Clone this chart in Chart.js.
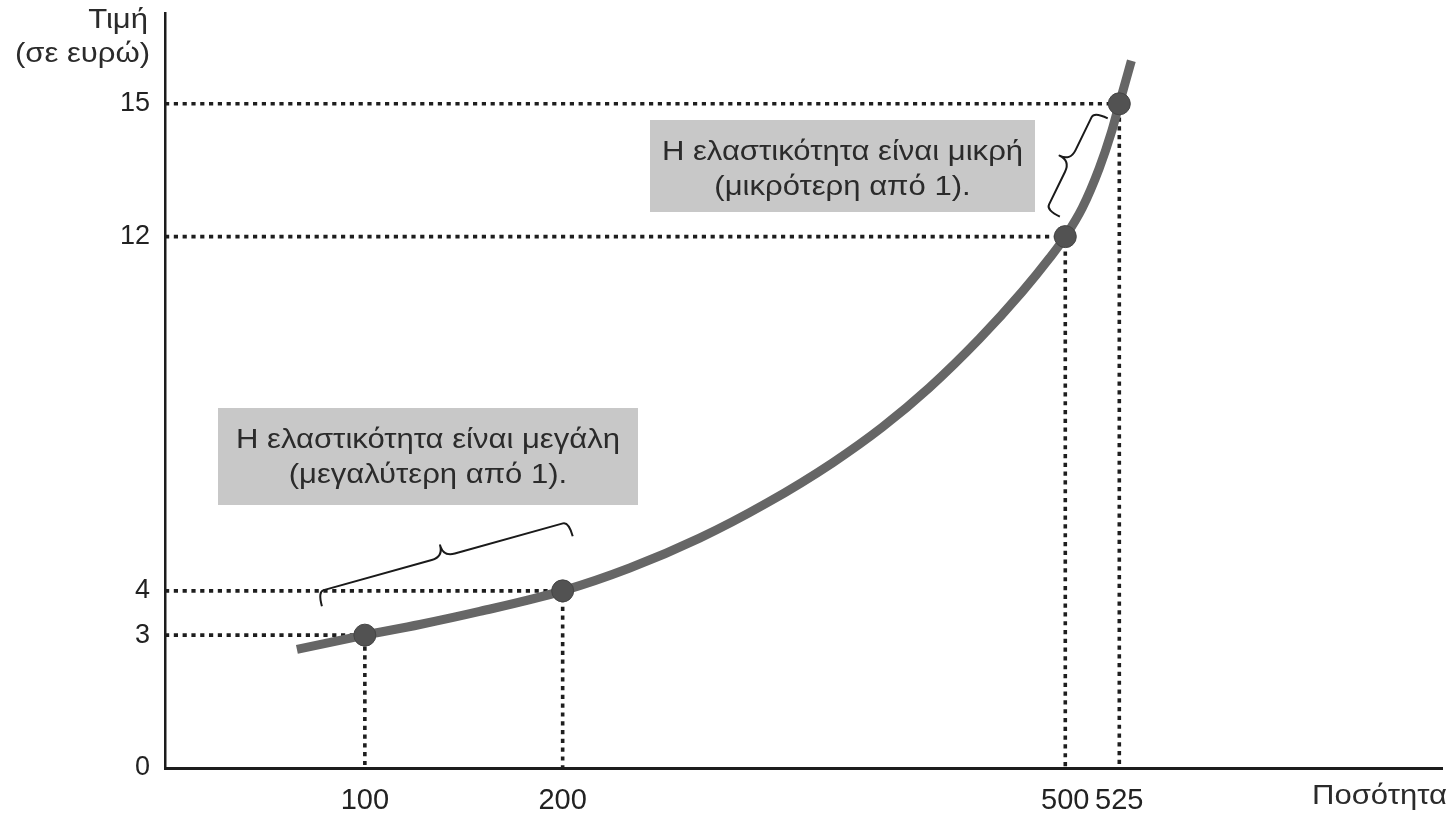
<!DOCTYPE html>
<html>
<head>
<meta charset="utf-8">
<script src="https://cdn.jsdelivr.net/npm/chart.js@4/dist/chart.umd.min.js"></script>
<style>
html,body{margin:0;padding:0;background:#ffffff;}
#wrap{width:1454px;height:815px;position:relative;}
</style>
</head>
<body>
<div id="wrap"><canvas id="c" width="1454" height="815"></canvas></div>
<script>
// ---- data ----
const curveQuantity = [66, 100, 127.8, 158.1, 200, 240, 281.7, 321.7, 361, 390.9, 418.9, 448.7, 474.4, 490.5, 500, 507.9, 515.7, 521.3, 525, 527.8];
const curvePrice    = [2.68, 3, 3.24, 3.535, 4, 4.515, 5.19, 5.98, 6.89, 7.7, 8.59, 9.69, 10.76, 11.51, 12, 12.65, 13.54, 14.35, 15, 15.97];
const markedQuantity = [100, 200, 500, 525];
const markedPrice    = [3, 4, 12, 15];
const xTickValues = [100, 200, 500, 525];
const yTickValues = [0, 3, 4, 12, 15];
const yAxisTitle = ['Τιμή', '(σε ευρώ)'];
const xAxisTitle = 'Ποσότητα';
const noteLarge = ['Η ελαστικότητα είναι μεγάλη', '(μεγαλύτερη από 1).'];
const noteSmall = ['Η ελαστικότητα είναι μικρή', '(μικρότερη από 1).'];
const braceLarge = [[76.5, 3.98], [203.6, 5.56]];
const braceSmall = [[488.7, 12.6], [513.4, 14.82]];
// the printed quantity axis is not drawn to scale: breakpoints of the axis
const xBreakValues = [0, 100, 200, 500, 525, 600];
const xBreakShare  = [0, 0.1565, 0.3114, 0.705, 0.7473, 1];

const FONT = '"Liberation Sans", Arial, Helvetica, sans-serif';
const STRETCH = 1.15;

function valueToShare(v) {
  const n = xBreakValues.length;
  let i = 0;
  if (v <= xBreakValues[0]) i = 0;
  else if (v >= xBreakValues[n - 1]) i = n - 2;
  else { while (i < n - 2 && v > xBreakValues[i + 1]) i++; }
  const t = (v - xBreakValues[i]) / (xBreakValues[i + 1] - xBreakValues[i]);
  return xBreakShare[i] + t * (xBreakShare[i + 1] - xBreakShare[i]);
}
function shareToValue(s) {
  const n = xBreakShare.length;
  let i = 0;
  if (s <= xBreakShare[0]) i = 0;
  else if (s >= xBreakShare[n - 1]) i = n - 2;
  else { while (i < n - 2 && s > xBreakShare[i + 1]) i++; }
  const t = (s - xBreakShare[i]) / (xBreakShare[i + 1] - xBreakShare[i]);
  return xBreakValues[i] + t * (xBreakValues[i + 1] - xBreakValues[i]);
}

class PiecewiseScale extends Chart.LinearScale {
  getPixelForValue(value) {
    if (value === null || value === undefined || isNaN(value)) return NaN;
    return this.getPixelForDecimal(valueToShare(+value));
  }
  getValueForPixel(pixel) {
    return shareToValue(this.getDecimalForPixel(pixel));
  }
}
PiecewiseScale.id = 'piecewise';
PiecewiseScale.defaults = Chart.LinearScale.defaults;
Chart.register(PiecewiseScale);

// ---- datasets ----
const curveData = curveQuantity.map((q, i) => ({x: q, y: curvePrice[i]}));
const markedData = markedQuantity.map((q, i) => ({x: q, y: markedPrice[i]}));
const guideSets = markedQuantity.map((q, i) => ({
  type: 'line',
  data: [{x: 0, y: markedPrice[i]}, {x: q, y: markedPrice[i]}, {x: q, y: 0}],
  borderColor: '#1e1e1e',
  borderWidth: 3.6,
  borderDash: [4.2, 4.6],
  pointRadius: 0,
  tension: 0,
  fill: false,
  order: 3
}));

function drawBrace(ctx, A, B, hook, cusp) {
  const dx = B.x - A.x, dy = B.y - A.y;
  const L = Math.hypot(dx, dy);
  const u = {x: dx / L, y: dy / L};
  const n = {x: -u.y, y: u.x};
  const M = {x: (A.x + B.x) / 2, y: (A.y + B.y) / 2};
  const r = 6, r2 = 12;
  const P = (p, a, b) => ({x: p.x + u.x * a + n.x * b, y: p.y + u.y * a + n.y * b});
  ctx.beginPath();
  let p = P(A, 0, hook); ctx.moveTo(p.x, p.y);
  let c = P(A, 0, 0); p = P(A, r, 0); ctx.quadraticCurveTo(c.x, c.y, p.x, p.y);
  p = P(M, -r2, 0); ctx.lineTo(p.x, p.y);
  c = P(M, 0, 0); p = P(M, 0, -cusp); ctx.quadraticCurveTo(c.x, c.y, p.x, p.y);
  p = P(M, r2, 0); ctx.quadraticCurveTo(c.x, c.y, p.x, p.y);
  p = P(B, -r, 0); ctx.lineTo(p.x, p.y);
  c = P(B, 0, 0); p = P(B, 0, hook); ctx.quadraticCurveTo(c.x, c.y, p.x, p.y);
  ctx.stroke();
}

function wideText(ctx, text, x, y, align) {
  ctx.save();
  ctx.translate(x, y);
  ctx.scale(STRETCH, 1);
  ctx.textAlign = align;
  ctx.fillText(text, 0, 0);
  ctx.restore();
}

const boxLayout = [
  {x: 218, y: 408, w: 420, h: 97, lines: noteLarge},
  {x: 650, y: 120, w: 385, h: 92, lines: noteSmall}
];

const annotate = {
  id: 'annotate',
  beforeDraw(chart) {
    const ctx = chart.ctx;
    ctx.save();
    ctx.fillStyle = '#ffffff';
    ctx.fillRect(0, 0, chart.width, chart.height);
    ctx.restore();
  },
  afterDraw(chart) {
    const {ctx, scales: {x, y}} = chart;
    ctx.save();
    // note boxes
    boxLayout.forEach(b => {
      ctx.fillStyle = '#c8c8c8';
      ctx.fillRect(b.x, b.y, b.w, b.h);
      ctx.fillStyle = '#2b2b2b';
      ctx.font = '27px ' + FONT;
      ctx.textBaseline = 'middle';
      wideText(ctx, b.lines[0], b.x + b.w / 2, b.y + 33, 'center');
      wideText(ctx, b.lines[1], b.x + b.w / 2, b.y + 68, 'center');
    });
    // braces
    ctx.strokeStyle = '#1a1a1a';
    ctx.lineWidth = 2;
    ctx.lineJoin = 'round';
    [braceLarge, braceSmall].forEach(br => {
      const A = {x: x.getPixelForValue(br[0][0]), y: y.getPixelForValue(br[0][1])};
      const B = {x: x.getPixelForValue(br[1][0]), y: y.getPixelForValue(br[1][1])};
      drawBrace(ctx, A, B, 15, 12);
    });
    // axis titles
    ctx.fillStyle = '#2b2b2b';
    ctx.font = '27px ' + FONT;
    ctx.textBaseline = 'middle';
    wideText(ctx, yAxisTitle[0], x.left - 17, 21, 'right');
    wideText(ctx, yAxisTitle[1], x.left - 15, 55, 'right');
    wideText(ctx, xAxisTitle, chart.width - 7, 797, 'right');
    ctx.restore();
  }
};

new Chart(document.getElementById('c'), {
  type: 'line',
  data: {
    datasets: [
      {
        type: 'scatter',
        data: markedData,
        pointRadius: 11,
        pointBackgroundColor: '#525252',
        pointBorderColor: '#454545',
        pointBorderWidth: 1,
        order: 1
      },
      {
        type: 'line',
        data: curveData,
        borderColor: '#666666',
        borderWidth: 9,
        pointRadius: 0,
        cubicInterpolationMode: 'monotone',
        borderCapStyle: 'butt',
        fill: false,
        order: 2
      },
      ...guideSets
    ]
  },
  options: {
    responsive: false,
    animation: false,
    events: [],
    layout: {padding: {left: 0, right: 11, top: 13, bottom: 0}},
    plugins: {legend: {display: false}, tooltip: {enabled: false}},
    scales: {
      x: {
        type: 'piecewise',
        min: 0,
        max: 600,
        grid: {display: false, drawTicks: false},
        border: {display: true, color: '#1c1c1c', width: 3},
        afterBuildTicks: s => { s.ticks = xTickValues.map(v => ({value: v})); },
        afterFit: s => { s.height = 47; s.paddingLeft = 0; s.paddingRight = 0; },
        ticks: {
          autoSkip: false,
          maxRotation: 0,
          padding: 16,
          color: '#222222',
          font: {family: '"Liberation Sans Narrow", "Liberation Sans", Arial, sans-serif', size: 29},
          callback: v => String(v)
        }
      },
      y: {
        type: 'linear',
        min: 0,
        max: 17.05,
        grid: {display: false, drawTicks: false},
        border: {display: true, color: '#1c1c1c', width: 2.5},
        afterBuildTicks: s => { s.ticks = yTickValues.map(v => ({value: v})); },
        afterFit: s => { s.width = 165; s.paddingTop = 0; s.paddingBottom = 0; },
        ticks: {
          autoSkip: false,
          padding: 15,
          color: '#222222',
          font: {family: FONT, size: 27},
          callback: v => String(v)
        }
      }
    }
  },
  plugins: [annotate]
});
</script>
</body>
</html>
